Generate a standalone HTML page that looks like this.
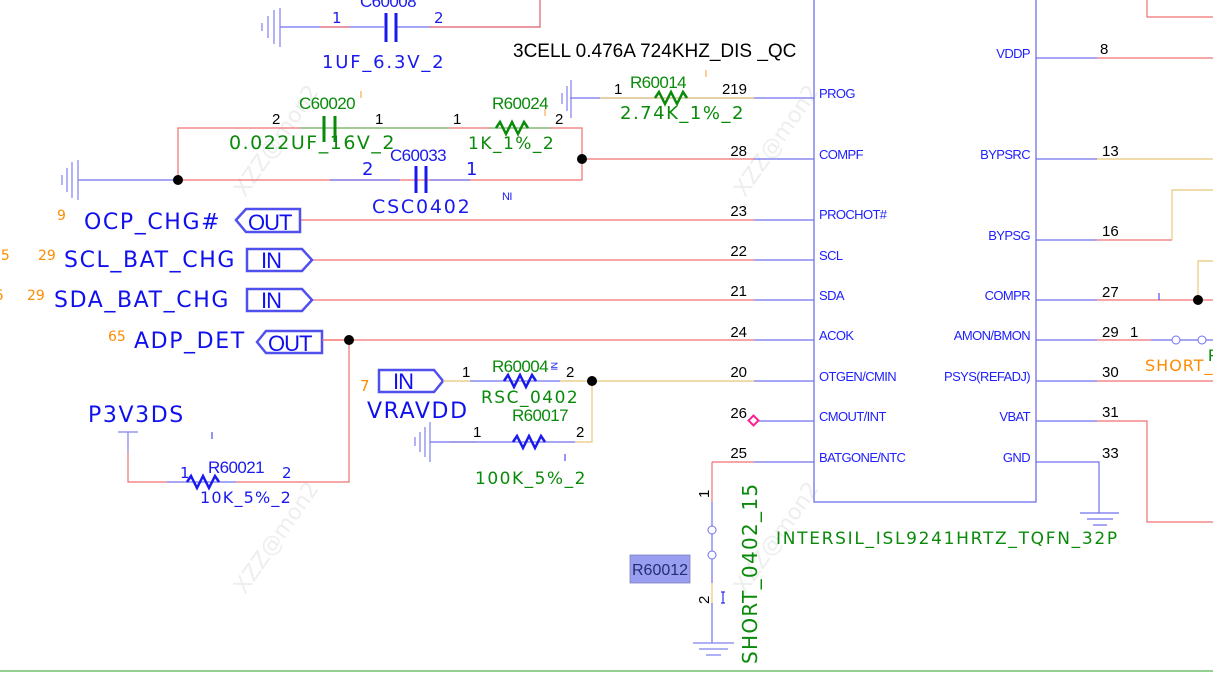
<!DOCTYPE html>
<html><head><meta charset="utf-8"><style>
html,body{margin:0;padding:0;background:#fff;width:1213px;height:673px;overflow:hidden}
svg{display:block}
.n{font-family:"Liberation Sans",sans-serif;font-size:15px;fill:#000}
.p{font-family:"Liberation Sans",sans-serif;font-size:13px;fill:#2020ff;letter-spacing:-0.6px}
.g{font-family:"Liberation Sans",sans-serif;font-size:17px;fill:#0a8a0a;letter-spacing:-0.6px}
.gv{font-family:"DejaVu Sans",sans-serif;font-size:18px;fill:#0a8a0a;letter-spacing:1.5px}
.b{font-family:"Liberation Sans",sans-serif;font-size:17px;fill:#1a1aee;letter-spacing:-0.6px}
.bv{font-family:"DejaVu Sans",sans-serif;font-size:18px;fill:#1a1aee;letter-spacing:1.8px}
.net{font-family:"DejaVu Sans",sans-serif;font-size:22px;fill:#1010ee;letter-spacing:1.6px}
.o{font-family:"DejaVu Sans",sans-serif;font-size:14px;fill:#ff8c00}
.w{font-family:"DejaVu Sans",sans-serif;font-size:22px;fill:#eeeeee}
</style></head><body>
<svg width="1213" height="673" viewBox="0 0 1213 673" xmlns="http://www.w3.org/2000/svg">
<text class="w" transform="translate(245,198) rotate(-55)">XZZ@mon2</text>
<text class="w" transform="translate(745,198) rotate(-55)">XZZ@mon2</text>
<text class="w" transform="translate(245,595) rotate(-55)">XZZ@mon2</text>
<text class="w" transform="translate(745,595) rotate(-55)">XZZ@mon2</text>

<!-- IC -->
<rect x="814" y="-2" width="222" height="504" fill="none" stroke="#7070ee" stroke-width="1.3"/>
<g stroke-width="1.2" fill="none">
<path d="M570 98H814" stroke="#7070ee"/>
<path d="M600 98H754" stroke="#e8c878"/>
<path d="M582 159H754" stroke="#f07070"/><path d="M754 159H814" stroke="#7070ee"/>
<path d="M300 220H754" stroke="#f07070"/><path d="M754 220H814" stroke="#7070ee"/>
<path d="M312 260H754" stroke="#f07070"/><path d="M754 260H814" stroke="#7070ee"/>
<path d="M312 300H754" stroke="#f07070"/><path d="M754 300H814" stroke="#7070ee"/>
<path d="M322 340H754" stroke="#f07070"/><path d="M754 340H814" stroke="#7070ee"/>
<path d="M592 381H754" stroke="#e8c878"/><path d="M754 381H814" stroke="#7070ee"/>
<path d="M754 421H814" stroke="#7070ee"/>
<path d="M754 462H814" stroke="#7070ee"/><path d="M712 462H754" stroke="#f07070"/>
<path d="M1036 58H1097M1036 159H1097M1036 240H1097M1036 300H1097M1036 340H1097M1036 381H1097M1036 421H1097M1036 462H1099V495" stroke="#7070ee"/>
<path d="M1097 58H1213" stroke="#f07070"/>
<path d="M1097 159H1213" stroke="#e8c878"/>
<path d="M1097 240H1172" stroke="#f07070"/><path d="M1172 240V190H1213" stroke="#e8c878"/>
<path d="M1097 300H1213" stroke="#f07070"/><path d="M1198 300V261H1213" stroke="#e8c878"/>
<path d="M1097 340H1151" stroke="#f07070"/><path d="M1151 340H1213" stroke="#7070ee"/>
<path d="M1097 381H1213" stroke="#f07070"/>
<path d="M1097 421H1147V522H1213" stroke="#f07070"/>
<path d="M1099 495V513" stroke="#7070ee"/>
<path d="M1147 0V17H1213" stroke="#f07070"/>
<path d="M1080 513H1119M1087 519H1113M1093 525H1107" stroke="#7070ee"/>
<path d="M1159 293V300" stroke="#5050ee"/>
</g>
<circle cx="1176" cy="340" r="4" fill="#fff" stroke="#7070ee"/>
<circle cx="1202" cy="340" r="4" fill="#fff" stroke="#7070ee"/>
<circle cx="1198" cy="300" r="5" fill="#000"/>

<text class="p" x="819" y="98">PROG</text>
<text class="p" x="819" y="159">COMPF</text>
<text class="p" x="819" y="219">PROCHOT#</text>
<text class="p" x="819" y="260">SCL</text>
<text class="p" x="819" y="300">SDA</text>
<text class="p" x="819" y="340">ACOK</text>
<text class="p" x="819" y="381">OTGEN/CMIN</text>
<text class="p" x="819" y="421">CMOUT/INT</text>
<text class="p" x="819" y="462">BATGONE/NTC</text>
<g text-anchor="end">
<text class="p" x="1030" y="58">VDDP</text>
<text class="p" x="1030" y="159">BYPSRC</text>
<text class="p" x="1030" y="240">BYPSG</text>
<text class="p" x="1030" y="300">COMPR</text>
<text class="p" x="1030" y="340">AMON/BMON</text>
<text class="p" x="1030" y="381">PSYS(REFADJ)</text>
<text class="p" x="1030" y="421">VBAT</text>
<text class="p" x="1030" y="462">GND</text>
<text class="n" x="747" y="94">219</text>
<text class="n" x="747" y="156">28</text>
<text class="n" x="747" y="216">23</text>
<text class="n" x="747" y="256">22</text>
<text class="n" x="747" y="296">21</text>
<text class="n" x="747" y="337">24</text>
<text class="n" x="747" y="377">20</text>
<text class="n" x="747" y="418">26</text>
<text class="n" x="747" y="458">25</text>
</g>
<text class="n" x="1100" y="54">8</text>
<text class="n" x="1102" y="156">13</text>
<text class="n" x="1102" y="236">16</text>
<text class="n" x="1102" y="297">27</text>
<text class="n" x="1102" y="337">29</text>
<text class="n" x="1130" y="337">1</text>
<text class="n" x="1102" y="377">30</text>
<text class="n" x="1102" y="417">31</text>
<text class="n" x="1102" y="458">33</text>
<text x="1145" y="371" font-family="DejaVu Sans,sans-serif" font-size="16" fill="#ff8c00" letter-spacing="1">SHORT_</text>
<text class="g" x="1208" y="361">F</text>
<rect x="750" y="417" width="7" height="7" fill="#fff" stroke="#ff2090" stroke-width="2" transform="rotate(45 753.5 420.5)"/>

<!-- top C60008 -->
<g stroke-width="1.2" fill="none">
<path d="M280 27H384M396 27H540V0" stroke="#7070ee"/>
<path d="M320 27H350M430 27H540V0" stroke="#f07070"/>
<path d="M262 23V31M268 16V38M274 10V44M280 8V47" stroke="#8080ee"/>
<path d="M386 13V42M396 13V42" stroke="#1a1aee" stroke-width="3"/>
</g>
<text class="bv" x="332" y="23" style="font-size:15px">1</text>
<text class="bv" x="434" y="23" style="font-size:15px">2</text>
<text class="b" x="360" y="7">C60008</text>
<text class="bv" x="322" y="68">1UF_6.3V_2</text>
<text class="n" x="513" y="57" style="font-size:19px">3CELL 0.476A 724KHZ_DIS _QC</text>
<path d="M706 70V77" stroke="#ff9a30" stroke-width="1"/>

<!-- R60014 -->
<g stroke-width="1.2" fill="none">
<path d="M562 93V104M567 86V111M571 80V118" stroke="#8080ee"/>
<path d="M655 98l4-6 6 12 6-12 6 12 6-12 4 6" stroke="#0a8a0a" stroke-width="2.5"/>
</g>
<text class="n" x="614" y="94">1</text>
<text class="g" x="630" y="88">R60014</text>
<text class="gv" x="620" y="119">2.74K_1%_2</text>

<!-- C60020 / R60024 / C60033 -->
<g stroke-width="1.2" fill="none">
<path d="M178 180V128H582V180H178" stroke="#f07070"/>
<path d="M300 128H450M490 128H550" stroke="#70c070"/>
<path d="M78 180H178" stroke="#7070ee"/>
<path d="M330 180H400M430 180H470" stroke="#7070ee"/>
<path d="M62 175V185M67 168V192M72 162V198M78 160V200" stroke="#8080ee"/>
<path d="M324 116V142M335 116V142" stroke="#0a8a0a" stroke-width="3"/>
<path d="M496 128l4-6 6 12 6-12 6 12 6-12 4 6" stroke="#0a8a0a" stroke-width="2.5"/>
<path d="M416 166V193M426 166V193" stroke="#1a1aee" stroke-width="3"/>
<path d="M361 91V98M545 109V116" stroke="#ff9a30" stroke-width="1"/>
</g>
<circle cx="178" cy="180" r="5" fill="#000"/>
<circle cx="582" cy="159" r="5" fill="#000"/>
<text class="n" x="272" y="124">2</text>
<text class="g" x="299" y="109">C60020</text>
<text class="n" x="375" y="124">1</text>
<text class="n" x="453" y="124">1</text>
<text class="g" x="492" y="109">R60024</text>
<text class="n" x="555" y="124">2</text>
<text class="gv" x="229" y="149" style="font-size:19px">0.022UF_16V_2</text>
<text class="gv" x="468" y="149" style="font-size:17px">1K_1%_2</text>
<text class="bv" x="362" y="175">2</text>
<text class="b" x="390" y="161">C60033</text>
<text class="bv" x="466" y="175">1</text>
<text class="bv" x="372" y="213" style="font-size:19px">CSC0402</text>
<text class="b" x="502" y="200" style="font-size:11px">NI</text>

<!-- net labels -->
<g fill="#fff" stroke="#5050ee" stroke-width="2.5">
<path d="M236 220L246 209H300V232H246Z"/>
<path d="M247 249H302L312 260L302 271H247Z"/>
<path d="M247 289H302L312 300L302 311H247Z"/>
<path d="M257 342L266 331H322V353H266Z"/>
<path d="M379 370H434L443 381L434 392H379Z"/>
</g>
<g font-family="Liberation Sans,sans-serif" font-size="22" fill="#1010ee" letter-spacing="-1">
<text x="248" y="230">OUT</text>
<text x="261" y="268">IN</text>
<text x="261" y="308">IN</text>
<text x="268" y="351">OUT</text>
<text x="393" y="389">IN</text>
</g>
<text class="o" x="57" y="220">9</text>
<text class="net" x="84" y="229">OCP_CHG#</text>
<text class="o" x="-8" y="260">65</text>
<text class="o" x="38" y="260">29</text>
<text class="net" x="64" y="267">SCL_BAT_CHG</text>
<text class="o" x="-5" y="300">5</text>
<text class="o" x="27" y="300">29</text>
<text class="net" x="54" y="307">SDA_BAT_CHG</text>
<text class="o" x="108" y="341">65</text>
<text class="net" x="134" y="348">ADP_DET</text>

<!-- ADP_DET pullup -->
<g stroke-width="1.2" fill="none">
<path d="M322 340H349V482H236" stroke="#f07070"/>
<path d="M236 482H167" stroke="#7070ee"/>
<path d="M167 482H128V452" stroke="#f07070"/>
<path d="M128 452V432M118 432H138" stroke="#8080ee"/>
<path d="M187 482l4-6 6 12 6-12 6 12 6-12 4 6" stroke="#1a1aee" stroke-width="2.5"/>
<path d="M212 432V439" stroke="#5050ee"/>
</g>
<circle cx="349" cy="340" r="5" fill="#000"/>
<text class="net" x="88" y="422">P3V3DS</text>
<text class="bv" x="180" y="478" style="font-size:15px">1</text>
<text class="b" x="208" y="473">R60021</text>
<text class="bv" x="282" y="478" style="font-size:15px">2</text>
<text class="bv" x="200" y="503" style="font-size:16px;letter-spacing:1.2px">10K_5%_2</text>

<!-- VRAVDD -->
<g stroke-width="1.2" fill="none">
<path d="M443 381H470M560 381H592V442H575M476 442H450" stroke="#e8c878"/>
<path d="M470 381H560M480 442H575" stroke="#7070ee"/>
<path d="M504 381l4-6 6 12 6-12 6 12 6-12 4 6" stroke="#1a1aee" stroke-width="2.5"/>
<path d="M513 442l4-6 6 12 6-12 6 12 6-12 4 6" stroke="#1a1aee" stroke-width="2.5"/>
<path d="M415 437V446M420 432V452M425 427V457M430 422V462" stroke="#8080ee"/>
<path d="M430 442H480" stroke="#7070ee"/>
<path d="M565 454V461" stroke="#5050ee"/>
</g>
<circle cx="592" cy="381" r="5" fill="#000"/>
<text class="o" x="360" y="391" style="font-size:15px">7</text>
<text class="net" x="367" y="418">VRAVDD</text>
<text class="n" x="462" y="377">1</text>
<text class="g" x="492" y="372">R60004</text>
<text class="b" x="550" y="369" style="font-size:9px" transform="rotate(90 554 366)">NI</text>
<text class="n" x="566" y="377">2</text>
<text class="gv" x="481" y="403" style="font-size:17px">RSC_0402</text>
<text class="n" x="473" y="437">1</text>
<text class="g" x="512" y="421">R60017</text>
<text class="n" x="576" y="437">2</text>
<text class="gv" x="475" y="484" style="font-size:17px">100K_5%_2</text>

<!-- BATGONE short -->
<g stroke-width="1.2" fill="none">
<path d="M712 462V502" stroke="#f07070"/>
<path d="M712 502V526M712 534V551M712 559V583M712 603V643" stroke="#7070ee"/>
<path d="M712 583V603" stroke="#e8c878"/>
<path d="M693 643H734M699 649H728M706 655H721" stroke="#8080ee"/>
<path d="M723 592V603M721 592H725M721 603H725" stroke="#3030ee"/>
</g>
<circle cx="712" cy="530" r="4" fill="#fff" stroke="#7070ee"/>
<circle cx="712" cy="555" r="4" fill="#fff" stroke="#7070ee"/>
<text class="n" transform="translate(709,498) rotate(-90)">1</text>
<text class="n" transform="translate(709,604) rotate(-90)">2</text>
<text class="gv" transform="translate(757,664) rotate(-90)" style="font-size:20px;letter-spacing:1.3px">SHORT_0402_15</text>
<rect x="630" y="555" width="60" height="28" fill="#9a9ef0" stroke="#8080c0" stroke-width="0.8"/>
<text x="632" y="575" font-family="Liberation Sans,sans-serif" font-size="16" fill="#203070">R60012</text>
<text class="gv" x="776" y="544" style="font-size:17px;letter-spacing:1.7px">INTERSIL_ISL9241HRTZ_TQFN_32P</text>

<path d="M0 671H1213" stroke="#70c070" stroke-width="1.5"/>
</svg>
</body></html>
